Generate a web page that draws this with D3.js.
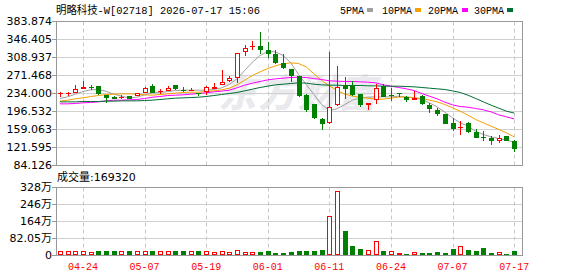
<!DOCTYPE html>
<html><head><meta charset="utf-8">
<script src="https://cdn.jsdelivr.net/npm/d3@7"></script>
<style>body{margin:0;background:#fff}svg{display:block}</style>
</head><body><svg id="c" width="578" height="276"></svg>
<script>
const title = "明略科技-W[02718] 2026-07-17 15:06";
const dates = ["04-21","04-22","04-23","04-24","04-27","04-28","04-29","04-30","05-04","05-05","05-06","05-07","05-08","05-11","05-12","05-13","05-14","05-15","05-18","05-19","05-20","05-21","05-22","05-26","05-27","05-28","05-29","06-01","06-02","06-03","06-04","06-05","06-08","06-09","06-10","06-11","06-12","06-15","06-16","06-17","06-18","06-22","06-23","06-24","06-25","06-26","06-29","06-30","07-02","07-03","07-06","07-07","07-08","07-09","07-10","07-13","07-14","07-15","07-16","07-17"];
const opens  = [232.5,231.5,234.6,242.5,247.5,248.6,229.2,226.3,225.2,227.0,228.0,234.6,248.6,235.4,238.0,250.0,241.0,238.0,234.0,236.8,243.0,251.3,259.6,265.2,318.6,330.5,332.5,322.8,315.9,296.4,284.0,268.7,229.8,211.0,180.5,170.8,208.3,250.0,249.2,231.2,209.0,218.7,249.2,229.8,234.6,226.3,219.4,228.4,209.7,198.6,190.3,170.8,161.8,170.8,153.5,141.7,140.3,134.0,143.8,134.0];
const highs  = [236.5,236.0,250.0,258.9,250.6,249.3,229.9,227.7,229.5,228.0,235.0,247.0,253.4,241.6,248.5,251.0,245.5,243.7,234.5,249.2,254.0,281.9,268.7,316.6,334.6,341.5,361.0,339.5,324.2,314.5,284.0,270.0,231.9,211.0,182.6,318.6,290.9,266.6,259.6,231.2,214.0,252.7,252.7,243.7,235.0,228.4,238.8,229.8,212.5,202.0,191.0,182.0,176.4,172.9,159.0,155.6,143.8,146.5,145.0,136.1];
const lows   = [226.0,228.0,234.6,242.5,240.0,229.5,213.0,221.0,221.5,221.0,227.0,234.0,234.0,232.0,238.0,241.0,236.5,238.0,227.0,230.5,243.0,251.0,257.6,254.1,311.7,324.2,316.0,306.2,294.0,283.0,256.2,225.0,193.7,180.0,157.6,170.0,206.0,221.5,228.0,204.0,199.3,211.0,226.0,218.0,225.0,216.0,219.0,210.0,193.0,186.8,170.0,154.2,147.2,150.7,140.0,134.7,126.4,130.6,134.0,111.9];
const closes = [234.5,234.5,241.7,245.5,246.8,232.6,224.5,222.2,226.2,222.0,234.5,244.4,234.0,239.0,244.4,241.6,238.0,239.5,233.0,245.8,246.5,256.9,265.2,316.6,327.0,332.0,324.2,315.9,296.4,285.3,270.0,228.4,199.3,182.0,170.0,204.1,245.8,242.3,229.8,209.0,213.0,243.7,226.3,227.0,231.3,220.0,224.3,210.4,201.4,191.0,170.1,158.4,162.5,153.5,141.0,140.3,134.7,139.6,134.0,116.7];
const volumes = [177000,177000,177000,177000,129000,193000,193000,193000,177000,193000,177000,177000,193000,177000,177000,193000,193000,177000,193000,177000,129000,177000,129000,225000,160000,145000,145000,193000,97000,97000,129000,193000,193000,193000,241000,1883000,3090000,1158000,434000,290000,225000,660000,193000,177000,97000,48000,129000,97000,97000,161000,97000,290000,434000,241000,193000,338000,97000,129000,48000,169320];
const ma5  = [223.6,227.0,232.6,238.1,241.6,242.3,238.8,232.6,228.4,224.9,226.3,231.2,235.4,236.1,238.1,240.2,240.9,240.9,240.9,240.9,242.3,245.8,252.7,264.5,281.9,299.2,313.1,321.4,320.7,313.1,297.8,273.5,252.7,231.9,211.1,198.6,202.1,211.1,220.1,224.3,226.3,227.0,227.0,227.0,228.4,226.3,225.6,221.5,214.6,206.2,195.1,183.3,172.9,166.0,155.6,148.6,143.8,140.3,136.8,132.7];
const ma10 = [218.0,220.1,222.9,224.9,227.7,229.8,231.9,232.6,233.3,233.3,232.6,231.2,230.5,231.9,233.3,234.7,236.1,236.7,236.7,238.1,239.5,241.6,245.1,252.0,261.7,271.5,279.1,286.0,291.6,295.7,297.8,296.4,289.5,274.9,261.0,249.9,240.9,232.6,228.4,226.3,224.3,222.2,222.2,224.3,226.3,227.0,224.9,223.6,220.1,216.6,211.1,204.1,197.2,188.9,179.9,172.9,166.0,159.1,152.1,143.8];
const ma20 = [212.5,212.5,213.2,214.6,215.3,216.6,218.7,220.1,220.1,220.8,221.5,223.6,226.3,227.7,229.8,230.5,231.2,232.6,234.0,235.4,237.4,238.8,240.9,245.8,251.3,255.5,258.9,262.4,264.5,265.9,267.3,268.0,267.3,265.2,263.1,260.4,259.7,259.0,259.0,258.3,257.6,256.2,252.0,249.2,246.5,243.7,240.2,234.0,228.4,222.9,215.9,210.4,206.9,205.5,202.8,200.0,195.8,189.6,185.4,181.2];
const ma30 = [216.6,216.6,216.6,217.3,217.3,217.3,218.0,218.0,218.7,218.7,218.7,219.4,220.1,221.5,222.9,224.3,224.9,225.6,226.3,227.7,229.8,231.9,234.0,236.1,239.5,243.0,246.5,249.2,252.0,253.4,254.8,256.2,255.5,253.4,252.0,251.3,251.3,250.6,250.6,250.6,249.9,249.9,249.2,249.2,249.2,248.6,247.9,246.5,245.1,243.7,242.3,239.5,236.1,230.5,223.6,216.6,209.7,203.5,197.2,193.3];
const priceTicks = ["383.874","346.405","308.937","271.468","234.000","196.532","159.063","121.595","84.126"];
const volTicks = [3282000,2461500,1641000,820500,0];
const volTickLabels = ["328万","246万","164万","82.05万","0"];
const dateTicks = ["04-24","05-07","05-19","06-01","06-11","06-24","07-07","07-17"];
const maNames = ["5PMA","10PMA","20PMA","30PMA"];
const maColors = ["#a0a0a0","#f5a000","#ff00ff","#006e35"];
const volLabel = "成交量:169320";

const svg = d3.select("#c");
const L = 56, R = 522;
const mono = "'Liberation Mono','DejaVu Sans Mono','Noto Sans CJK SC',monospace";
const sans = "'DejaVu Sans','Noto Sans CJK SC',sans-serif";
const RED = "#ff0000", GREEN = "#008000";

const x = d3.scaleBand().domain(dates).range([L, 518]);
const cx = d => x(d) + x.bandwidth() / 2;
const y = d3.scaleLinear().domain([84.126, 383.874]).range([165, 21]);
const yv = d3.scaleLinear().domain([0, 3282000]).range([255, 187]);

// watermark
svg.append("text").attr("x", 218).attr("y", 107).text("东方财富")
  .attr("font-family", "'Noto Sans CJK SC',sans-serif").attr("font-weight", 900)
  .attr("font-style", "italic").attr("font-size", 38).attr("fill", "#e9e9ee")
  .attr("letter-spacing", 2);

// grids
function grid(scale, ticks, top, bot) {
  const g = svg.append("g").attr("transform", `translate(${L},0)`)
    .call(d3.axisRight(scale).tickValues(ticks).tickSizeInner(R - L).tickSizeOuter(0).tickFormat(""));
  g.select(".domain").remove();
  g.selectAll(".tick line").attr("stroke", "#d0d0d0");
  dateTicks.forEach(dt => {
    const xx = Math.round(cx(dt)) + 0.5;
    svg.append("line").attr("x1", xx).attr("x2", xx).attr("y1", top).attr("y2", bot)
      .attr("stroke", "#c8c8c8").attr("stroke-dasharray", "4,3");
  });
}
grid(y, priceTicks.map(Number), 21.5, 165.5);
grid(yv, volTicks, 187.5, 255.5);

// frames
svg.append("rect").attr("x", L + 0.5).attr("y", 21.5).attr("width", R - L).attr("height", 144)
  .attr("fill", "none").attr("stroke", "#999");
svg.append("rect").attr("x", L + 0.5).attr("y", 187.5).attr("width", R - L).attr("height", 68)
  .attr("fill", "none").attr("stroke", "#999");

// left axes
function leftAxis(scale, ticks, fmt) {
  const g = svg.append("g").attr("transform", `translate(${L},0)`)
    .call(d3.axisLeft(scale).tickValues(ticks).tickSize(4).tickPadding(0).tickFormat(fmt));
  g.select(".domain").remove();
  g.selectAll(".tick line").attr("stroke", "#999");
  g.selectAll("text").attr("font-family", sans).attr("font-size", 11).attr("fill", "#000");
}
leftAxis(y, priceTicks.map(Number), (d, i) => priceTicks[i]);
leftAxis(yv, volTicks, (d, i) => volTickLabels[i]);

// MA lines
[ma5, ma10, ma20, ma30].forEach((arr, k) => {
  const line = d3.line().x((d, i) => cx(dates[i])).y(d => y(d) + 0.5);
  svg.append("path").datum(arr).attr("d", line).attr("fill", "none")
    .attr("stroke", maColors[k]).attr("stroke-width", 1);
});

// candles
const cg = svg.append("g").attr("shape-rendering", "crispEdges");
dates.forEach((dt, i) => {
  const o = opens[i], c = closes[i];
  const xc = Math.round(cx(dt));
  const up = c >= o;
  const col = up ? RED : GREEN;
  cg.append("line").attr("x1", xc + 0.5).attr("x2", xc + 0.5)
    .attr("y1", y(highs[i])).attr("y2", y(lows[i])).attr("stroke", col);
  const t = Math.round(y(Math.max(o, c))), b = Math.round(y(Math.min(o, c)));
  if (b - t < 1.5) {
    cg.append("line").attr("x1", xc - 2).attr("x2", xc + 3).attr("y1", t + 0.5).attr("y2", t + 0.5).attr("stroke", col);
  } else if (up) {
    cg.append("rect").attr("x", xc - 1.5).attr("y", t + 0.5).attr("width", 4).attr("height", b - t - 1)
      .attr("fill", "#fff").attr("stroke", RED);
  } else {
    cg.append("rect").attr("x", xc - 2).attr("y", t).attr("width", 5).attr("height", b - t).attr("fill", GREEN);
  }
});

// volume bars
const vg = svg.append("g").attr("shape-rendering", "crispEdges");
dates.forEach((dt, i) => {
  const xc = Math.round(cx(dt));
  const up = i === 0 || closes[i] >= closes[i - 1];
  const top = Math.round(yv(volumes[i]));
  if (up) {
    vg.append("rect").attr("x", xc - 1.5).attr("y", top + 0.5).attr("width", 4).attr("height", Math.max(0, 255 - top - 1))
      .attr("fill", "#fff").attr("stroke", RED);
  } else {
    vg.append("rect").attr("x", xc - 2).attr("y", top).attr("width", 5).attr("height", 255 - top).attr("fill", GREEN);
  }
});

// x labels
svg.append("g").selectAll("text").data(dateTicks).join("text")
  .attr("x", d => cx(d)).attr("y", 270).attr("text-anchor", "middle")
  .attr("font-family", mono).attr("font-size", 10).attr("fill", RED).text(d => d);

// title
svg.append("text").attr("x", 56).attr("y", 14).text(title)
  .attr("font-family", mono).attr("font-size", 11).attr("fill", "#000")
  .attr("textLength", 204).attr("lengthAdjust", "spacingAndGlyphs");

// legend
const legX = [340, 382, 428, 474];
const sqX = [367, 415, 462, 507];
maNames.forEach((n, k) => {
  svg.append("text").attr("x", legX[k]).attr("y", 14).text(n)
    .attr("font-family", mono).attr("font-size", 10).attr("fill", "#000");
  svg.append("rect").attr("x", sqX[k]).attr("y", 8).attr("width", 6).attr("height", 4).attr("fill", maColors[k]);
});

// volume label
svg.append("text").attr("x", 57).attr("y", 181).text(volLabel)
  .attr("font-family", sans).attr("font-size", 11).attr("fill", "#000");
</script></body></html>
